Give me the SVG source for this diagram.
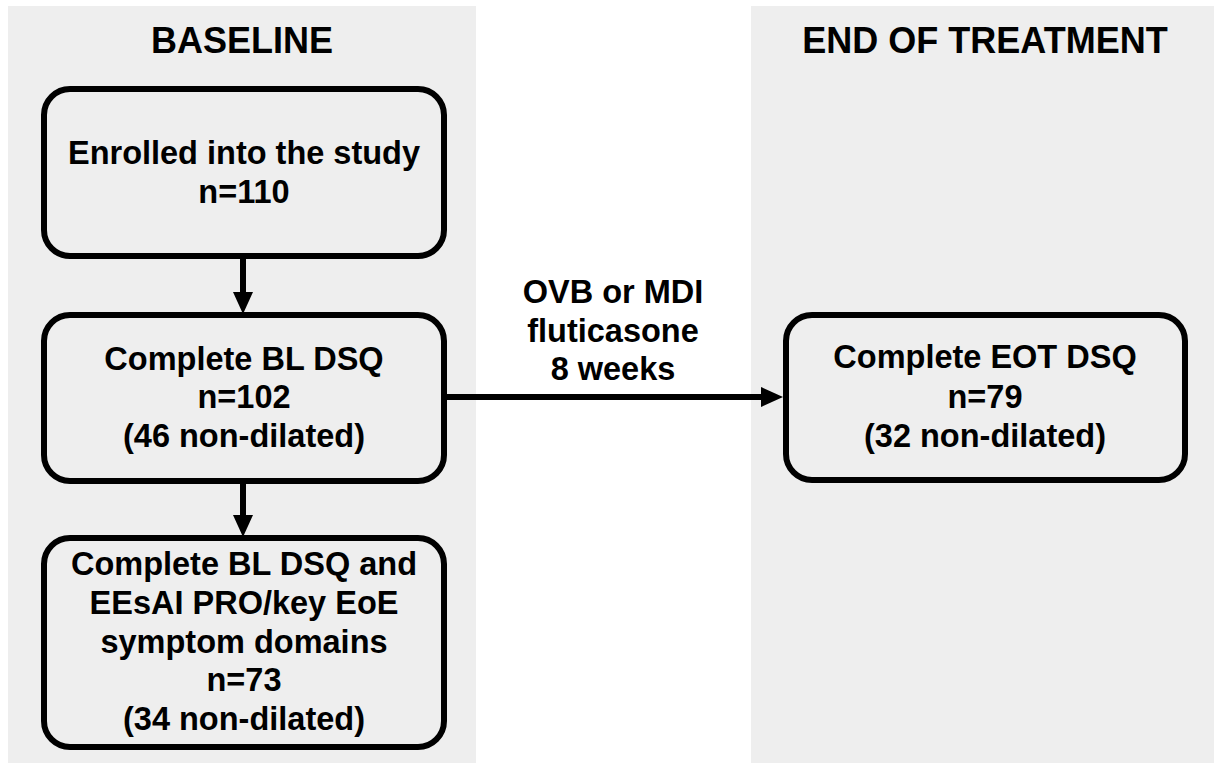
<svg xmlns="http://www.w3.org/2000/svg" width="1214" height="763" viewBox="0 0 1214 763">
<style>
.panel{fill:#eeeeee}
.box{fill:#eeeeee;stroke:#000;stroke-width:6}
.t{font-family:"Liberation Sans",Arial,sans-serif;font-weight:bold;font-size:32.5px;fill:#000;text-anchor:middle}
.h{font-size:36px}
.edge{stroke:#000;stroke-width:6;fill:none}
</style>
<defs>
<marker id="ah" viewBox="0 0 22 20" refX="0" refY="10" markerUnits="userSpaceOnUse" markerWidth="22" markerHeight="20" orient="auto">
<path d="M0,0 L22,10 L0,20 Z" fill="#000"/>
</marker>
</defs>
<rect width="1214" height="763" fill="#fff"/>
<g id="panels">
<rect class="panel" x="8" y="6" width="468" height="757"/>
<rect class="panel" x="751" y="6" width="463" height="757"/>
<text class="t h" x="242" y="53">BASELINE</text>
<text class="t h" x="985" y="53">END OF TREATMENT</text>
</g>
<g id="connectors">
<line class="edge" x1="243" y1="259" x2="243" y2="292" marker-end="url(#ah)"/>
<line class="edge" x1="243" y1="484" x2="243" y2="515" marker-end="url(#ah)"/>
<line class="edge" x1="447" y1="397" x2="761" y2="397" marker-end="url(#ah)"/>
<text class="t" x="613" y="303">OVB or MDI</text>
<text class="t" x="613" y="342">fluticasone</text>
<text class="t" x="613" y="380">8 weeks</text>
</g>
<g id="n1">
<rect class="box" x="44" y="89" width="400" height="167" rx="26"/>
<text class="t" x="244" y="164">Enrolled into the study</text>
<text class="t" x="244" y="203">n=110</text>
</g>
<g id="n2">
<rect class="box" x="44" y="315" width="400" height="166" rx="26"/>
<text class="t" x="244" y="370">Complete BL DSQ</text>
<text class="t" x="244" y="408">n=102</text>
<text class="t" x="244" y="447">(46 non-dilated)</text>
</g>
<g id="n3">
<rect class="box" x="44" y="538" width="400" height="209" rx="26"/>
<text class="t" x="244" y="575">Complete BL DSQ and</text>
<text class="t" x="244" y="614">EEsAI PRO/key EoE</text>
<text class="t" x="244" y="653">symptom domains</text>
<text class="t" x="244" y="691">n=73</text>
<text class="t" x="244" y="730">(34 non-dilated)</text>
</g>
<g id="n4">
<rect class="box" x="786" y="315" width="399" height="165" rx="26"/>
<text class="t" x="985" y="368">Complete EOT DSQ</text>
<text class="t" x="985" y="408">n=79</text>
<text class="t" x="985" y="447">(32 non-dilated)</text>
</g>
</svg>
